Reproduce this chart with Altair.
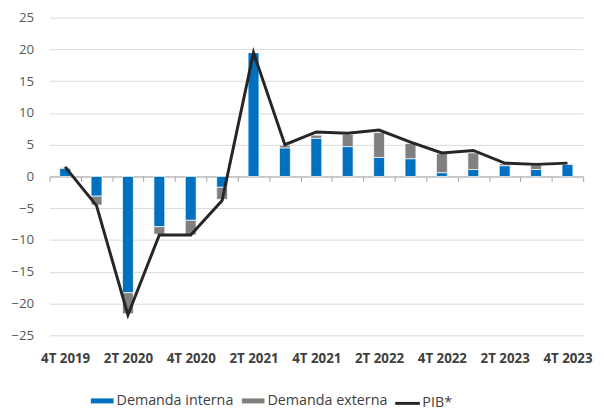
import json
import altair as alt
import pandas as pd

quarters = ["4T 2019", "1T 2020", "2T 2020", "3T 2020", "4T 2020", "1T 2021",
            "2T 2021", "3T 2021", "4T 2021", "1T 2022", "2T 2022", "3T 2022",
            "4T 2022", "1T 2023", "2T 2023", "3T 2023", "4T 2023"]
shown_labels = ["4T 2019", "2T 2020", "4T 2020", "2T 2021", "4T 2021",
                "2T 2022", "4T 2022", "2T 2023", "4T 2023"]
demanda_interna = [1.3, -3.1, -18.3, -7.9, -6.9, -1.7, 19.5, 4.5, 6.0, 4.7, 3.0,
                   2.8, 0.6, 1.1, 1.7, 1.1, 1.9]
demanda_externa = [0.1, -1.4, -3.3, -1.2, -2.3, -1.9, 0.0, 0.4, 0.5, 1.9, 3.9,
                   2.4, 3.0, 2.6, 0.3, 0.7, 0.1]
pib = [1.5, -4.6, -21.8, -9.2, -9.2, -3.8, 19.5, 5.0, 7.0, 6.8, 7.3, 5.4, 3.7,
       4.1, 2.1, 1.9, 2.1]
series_bars = ["Demanda interna", "Demanda externa"]
serie_line = "PIB*"
y_ticks = [-25, -20, -15, -10, -5, 0, 5, 10, 15, 20, 25]

rows = []
for q, a, b in zip(quarters, demanda_interna, demanda_externa):
    rows.append({"trimestre": q, "serie": series_bars[0], "valor": a, "orden": 0})
    rows.append({"trimestre": q, "serie": series_bars[1], "valor": b, "orden": 1})
bars_df = pd.DataFrame(rows)
line_df = pd.DataFrame({"trimestre": quarters, "valor": pib, "serie": serie_line})

W, H = 541, 322
FONT = "Open Sans"

label_expr = "indexof(" + json.dumps(shown_labels) + ", datum.value) >= 0 ? datum.value : ''"

x_axis = alt.Axis(
    orient="bottom", offset=-H / 2, labelAngle=0, labelExpr=label_expr,
    labelOverlap=False, labelPadding=173, labelFontSize=13.5,
    labelFontWeight="bold", labelColor="#404040", labelFont=FONT,
    domainColor="#a6a6a6", tickColor="#a6a6a6", tickSize=5,
    tickBand="extent", grid=False,
)
y_axis = alt.Axis(values=y_ticks, tickCount=11, grid=True, gridColor="#d9d9d9",
                  domain=False, ticks=False, labelPadding=16,
                  labelOverlap=False, labelFontSize=13.5, labelColor="#595959",
                  labelFont=FONT)
x_scale = alt.Scale(paddingInner=0, paddingOuter=0)
y_scale = alt.Scale(domain=[-25, 25], nice=False)

bars = alt.Chart(bars_df).mark_bar(size=11, stroke="white", strokeWidth=0.7).encode(
    x=alt.X("trimestre:N", sort=quarters, title=None, scale=x_scale, axis=x_axis),
    y=alt.Y("valor:Q", stack="zero", scale=y_scale, title=None, axis=y_axis),
    fill=alt.Fill("serie:N",
                  scale=alt.Scale(domain=series_bars, range=["#0070C0", "#808080"]),
                  legend=alt.Legend(title=None, orient="none", direction="horizontal",
                                    legendX=42, legendY=377,
                                    symbolType="M-1,-0.22L1,-0.22L1,0.22L-1,0.22Z",
                                    symbolSize=529, symbolStrokeWidth=0,
                                    labelFontSize=14.5, labelColor="#404040",
                                    labelFont=FONT, labelOffset=3,
                                    columnPadding=8)),
    order=alt.Order("orden:Q"),
)

line = alt.Chart(line_df).mark_line(strokeWidth=3, strokeJoin="miter").encode(
    x=alt.X("trimestre:N", sort=quarters, title=None, scale=x_scale, axis=x_axis),
    y=alt.Y("valor:Q", scale=y_scale, title=None, axis=y_axis),
    stroke=alt.Stroke("serie:N",
                      scale=alt.Scale(domain=[serie_line], range=["#262626"]),
                      legend=alt.Legend(title=None, orient="none",
                                        legendX=349, legendY=377,
                                        symbolType="stroke", symbolSize=625,
                                        symbolStrokeWidth=3,
                                        labelFontSize=14.5, labelColor="#404040",
                                        labelFont=FONT, labelOffset=1)),
)

chart = alt.layer(bars, line).resolve_scale(
    fill="independent", stroke="independent"
).properties(
    width=W, height=H,
    autosize=alt.AutoSizeParams(type="none"),
    padding={"left": 42, "top": 7, "right": 13, "bottom": 76},
).configure_view(stroke=None)

chart.save("out.html", embed_options={"renderer": "svg", "actions": False})
